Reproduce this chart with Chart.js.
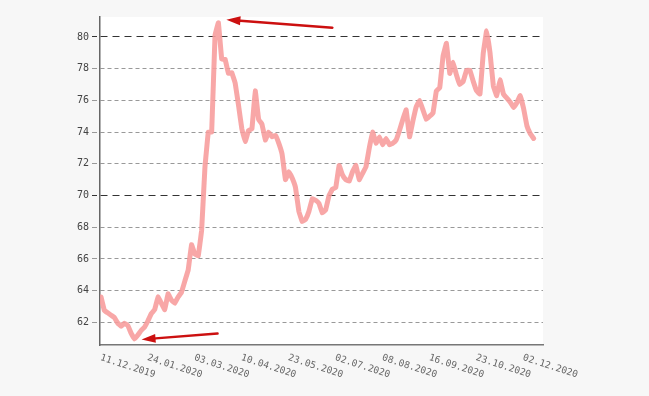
<!DOCTYPE html>
<html>
<head>
<meta charset="utf-8">
<script src="https://cdn.jsdelivr.net/npm/chart.js@4"></script>
<style>
body{margin:0;background:#f7f7f7;}
</style>
</head>
<body>
<canvas id="rateChart" width="649" height="396"></canvas>
<script>
// rate, one value per two trading days (11.12.2019 .. 12.2020)
let rateValues=[
63.6,62.75,62.6,62.45,62.3,61.95,61.75,61.95,61.8,61.3,
60.95,61.2,61.5,61.7,62.1,62.55,62.8,63.6,63.2,62.8,
63.8,63.4,63.2,63.6,63.9,64.6,65.3,66.9,66.3,66.2,
67.8,71.8,74.0,74.0,80.1,80.9,78.6,78.6,77.7,77.75,
77.1,75.7,74.2,73.4,74.1,74.2,76.6,74.8,74.5,73.5,
74.0,73.7,73.8,73.3,72.6,71.0,71.5,71.1,70.5,69.0,
68.35,68.5,69.0,69.8,69.7,69.5,68.9,69.1,70.0,70.4,
70.5,71.9,71.3,71.0,70.9,71.5,71.9,71.0,71.4,71.8,
73.0,74.0,73.3,73.7,73.2,73.6,73.2,73.3,73.5,74.1,
74.8,75.4,73.7,74.7,75.6,76.0,75.4,74.8,75.0,75.2,
76.6,76.8,78.8,79.6,77.7,78.4,77.6,77.0,77.2,77.9,
77.9,77.2,76.6,76.4,79.0,80.4,79.0,76.9,76.3,77.3,
76.4,76.15,75.9,75.55,75.85,76.3,75.5,74.4,73.9,73.6
]
let tickLabels=['11.12.2019','24.01.2020','03.03.2020','10.04.2020','23.05.2020','02.07.2020','08.08.2020','16.09.2020','23.10.2020','02.12.2020']
let tickIndex=[0,14,28,42,56,70,84,98,112,126]
let yTicks=[62,64,66,68,70,72,74,76,78,80]

let monoFont='"DejaVu Sans Mono", "Liberation Mono", monospace'

// grey page, white plot area
let backgroundPlugin={
    id:'bg',
    beforeDraw(chart){
        let c=chart.ctx, a=chart.chartArea
        c.save()
        c.fillStyle='#f7f7f7'
        c.fillRect(0,0,chart.width,chart.height)
        c.fillStyle='#ffffff'
        c.fillRect(a.left,a.top,a.right-a.left,a.bottom-a.top)
        c.restore()
    }
}

// slanted date labels under the axis
let dateLabelPlugin={
    id:'dateLabels',
    afterDraw(chart){
        let c=chart.ctx, xs=chart.scales.x
        c.save()
        c.font='9.5px '+monoFont
        c.fillStyle='#666'
        c.textAlign='left'
        c.textBaseline='top'
        for(let i=0;i<tickLabels.length;i++){
            let px=xs.getPixelForValue(tickIndex[i])
            c.save()
            c.translate(px+1,chart.chartArea.bottom+8)
            c.rotate(18*Math.PI/180)
            c.fillText(tickLabels[i],0,0)
            c.restore()
        }
        c.restore()
    }
}

function drawArrow(c,x1,y1,x2,y2){
    let ang=Math.atan2(y2-y1,x2-x1)
    let len=14, half=4.5
    let bx=x2-len*Math.cos(ang), by=y2-len*Math.sin(ang)
    c.beginPath()
    c.moveTo(x1,y1)
    c.lineTo(bx,by)
    c.stroke()
    c.beginPath()
    c.moveTo(x2,y2)
    c.lineTo(bx+half*Math.sin(ang),by-half*Math.cos(ang))
    c.lineTo(bx-half*Math.sin(ang),by+half*Math.cos(ang))
    c.closePath()
    c.fill()
}

// arrows pointing at max and min
let arrowPlugin={
    id:'arrows',
    afterDatasetsDraw(chart){
        let c=chart.ctx, xs=chart.scales.x, ys=chart.scales.y
        let maxI=0, minI=0
        for(let i=0;i<rateValues.length;i++){
            if(rateValues[i]>rateValues[maxI]) maxI=i
            if(rateValues[i]<rateValues[minI]) minI=i
        }
        c.save()
        c.strokeStyle='#cc1010'
        c.fillStyle='#cc1010'
        c.lineWidth=2.5
        c.lineCap='round'
        let tx=xs.getPixelForValue(maxI)+8, ty=ys.getPixelForValue(rateValues[maxI])-3
        drawArrow(c,tx+106,ty+8,tx,ty)
        let bx=xs.getPixelForValue(minI)+7, by=ys.getPixelForValue(rateValues[minI])+0.5
        drawArrow(c,bx+76,by-6,bx,by)
        c.restore()
    }
}

let ctx=document.getElementById('rateChart').getContext('2d')
let myChart=new Chart(ctx,{
    type:'line',
    data:{
        datasets:[{
            data:rateValues.map((v,i)=>({x:i,y:v})),
            borderColor:'rgba(247,155,155,0.88)',
            borderWidth:5,
            pointRadius:0,
            tension:0.05,
            borderJoinStyle:'round',
            borderCapStyle:'round',
            fill:false
        }]
    },
    options:{
        responsive:false,
        animation:false,
        layout:{padding:{left:0,right:106,top:17,bottom:0}},
        plugins:{legend:{display:false},tooltip:{enabled:false}},
        scales:{
            x:{
                type:'linear',
                min:-0.3,
                max:131.8,
                ticks:{display:false},
                grid:{display:false},
                border:{display:true,color:'#777',width:1.5},
                afterFit(scale){scale.height=51}
            },
            y:{
                min:60.57,
                max:81.26,
                afterBuildTicks(scale){scale.ticks=yTicks.map(v=>({value:v}))},
                afterFit(scale){scale.width=100},
                ticks:{
                    font:{family:monoFont,size:10},
                    color:'#444',
                    padding:3
                },
                grid:{
                    color:c=>c.tick&&c.tick.value%10===0?'#333':'#999',
                    lineWidth:1,
                    tickLength:8,
                    borderDash:c=>c.tick&&c.tick.value%10===0?[7,5]:[4,3],
                    tickBorderDash:[5,3]
                },
                border:{
                    display:true,
                    color:'#666',
                    width:1.5,
                    dash:c=>c.tick&&c.tick.value%10===0?[7,5]:[4,3]
                }
            }
        }
    },
    plugins:[backgroundPlugin,dateLabelPlugin,arrowPlugin]
})
</script>
</body>
</html>
